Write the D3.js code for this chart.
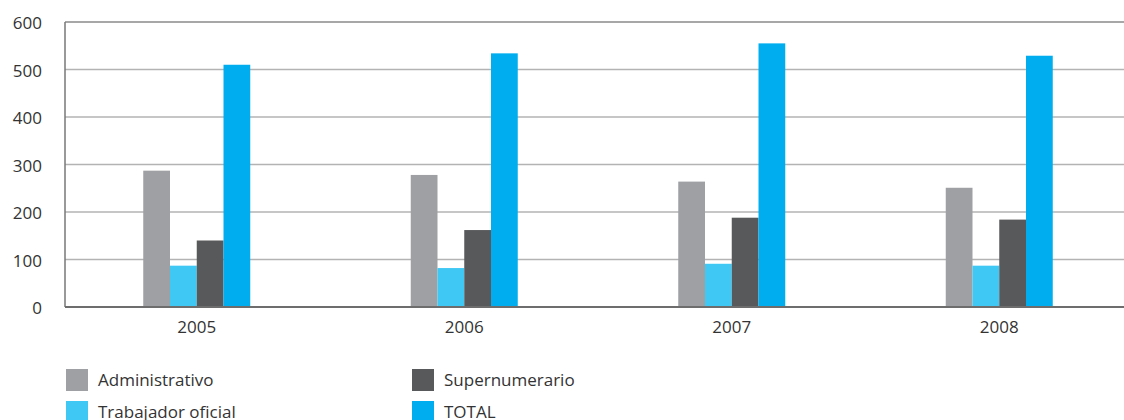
<!DOCTYPE html>
<meta charset="utf-8">
<head>
<style>
body { margin: 0; background: #fff; }
text { font: 17px "Open Sans", "Noto Sans", sans-serif; fill: #333; }
</style>
<script src="https://d3js.org/d3.v7.min.js"></script>
</head>
<body>
<svg width="1124" height="420"></svg>
<script>

var years = ["2005", "2006", "2007", "2008"];
var series = ["Administrativo", "Trabajador oficial", "Supernumerario", "TOTAL"];
var administrativo = [287, 278, 264, 251];
var trabajador = [87, 82, 91, 87];
var supernumerario = [140, 162, 188, 184];
var total = [510, 534, 555, 529];
var yTicks = [0, 100, 200, 300, 400, 500, 600];
var colors = ["#9fa0a4", "#40c8f4", "#58595b", "#00aeef"];

var values = [administrativo, trabajador, supernumerario, total];

var svg = d3.select("svg"),
    plotLeft = 65, plotTop = 22, plotBottom = 307;

var x = d3.scaleBand()
    .domain(years)
    .range([63, 1133]);

// bars within each year group
var x1 = d3.scaleBand()
    .domain(series)
    .range([x.bandwidth() / 2 - 53.5, x.bandwidth() / 2 + 53.5]);

var y = d3.scaleLinear()
    .domain([0, 600])
    .range([plotBottom, plotTop]);

var color = d3.scaleOrdinal().domain(series).range(colors);

// grid lines
svg.append("g")
  .selectAll("line")
  .data(yTicks.filter(function(d) { return d > 0 && d < 600; }))
  .enter().append("line")
    .attr("x1", plotLeft).attr("x2", 1124)
    .attr("y1", function(d) { return y(d); })
    .attr("y2", function(d) { return y(d); })
    .style("stroke", "#b3b3b3")
    .style("stroke-width", 1.5);

// top line
svg.append("line")
    .attr("x1", plotLeft).attr("x2", 1124)
    .attr("y1", y(600)).attr("y2", y(600))
    .style("stroke", "#8a8a8a").style("stroke-width", 1.5);

// bars
var rows = [];
years.forEach(function(yr, i) {
  series.forEach(function(s, j) {
    rows.push({ year: yr, key: s, value: values[j][i] });
  });
});

svg.append("g")
  .selectAll("rect")
  .data(rows)
  .enter().append("rect")
    .attr("x", function(d) { return x(d.year) + x1(d.key); })
    .attr("width", x1.bandwidth())
    .attr("y", function(d) { return y(d.value); })
    .attr("height", function(d) { return y(0) - y(d.value); })
    .style("fill", function(d) { return color(d.key); });

// axes lines
svg.append("line")
    .attr("x1", plotLeft).attr("x2", plotLeft)
    .attr("y1", y(600)).attr("y2", y(0))
    .style("stroke", "#777").style("stroke-width", 1.5);
svg.append("line")
    .attr("x1", plotLeft).attr("x2", 1124)
    .attr("y1", y(0)).attr("y2", y(0))
    .style("stroke", "#6d6d6d").style("stroke-width", 2);

// y labels
svg.append("g")
  .selectAll("text")
  .data(yTicks)
  .enter().append("text")
    .attr("x", 42)
    .attr("y", function(d) { return y(d) + 1.5; })
    .attr("dy", "0.35em")
    .attr("text-anchor", "end")
    .text(function(d) { return d; });

// x labels
svg.append("g")
  .selectAll("text")
  .data(years)
  .enter().append("text")
    .attr("x", function(d) { return x(d) + x.bandwidth() / 2; })
    .attr("y", 333)
    .attr("text-anchor", "middle")
    .text(function(d) { return d; });

// legend
var legendPos = [[66, 369], [66, 401], [412, 369], [412, 401]];
var legend = svg.append("g")
  .selectAll("g")
  .data(series)
  .enter().append("g")
    .attr("transform", function(d, i) { return "translate(" + legendPos[i][0] + "," + legendPos[i][1] + ")"; });

legend.append("rect")
    .attr("width", 22).attr("height", 22)
    .style("fill", function(d) { return color(d); });

legend.append("text")
    .attr("x", 32).attr("y", 11)
    .attr("dy", "0.35em")
    .text(function(d) { return d; });

</script>
</body>
